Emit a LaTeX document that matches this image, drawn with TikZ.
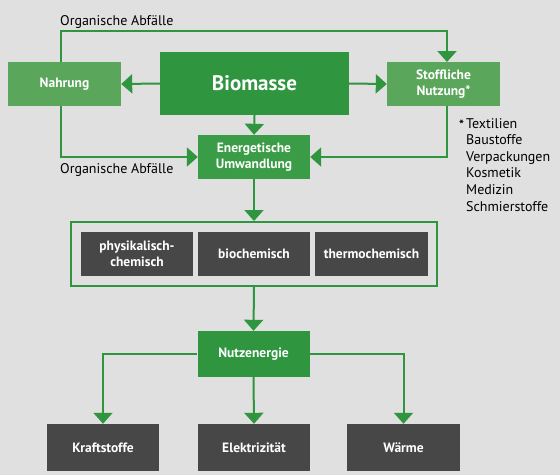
\documentclass[tikz,border=0pt]{standalone}
\usepackage{fontspec}
\setmainfont{PT Sans}
\usetikzlibrary{arrows.meta,positioning}
\definecolor{bg}{HTML}{DFE0DF}
\definecolor{dgreen}{HTML}{2F963F}
\definecolor{lgreen}{HTML}{5AA65A}
\definecolor{mgreen}{HTML}{3A9C46}
\definecolor{dgray}{HTML}{474747}
\tikzset{
  box/.style={rectangle, inner sep=0pt, text=white, font=\bfseries\fontsize{13.5}{16}\selectfont, align=center},
  lbox/.style={box, fill=lgreen},
  gbox/.style={box, fill=mgreen},
  graybox/.style={box, fill=dgray},
  conn/.style={draw=dgreen, line width=2pt, -{Triangle[width=19pt,length=11pt]}},
  lbl/.style={font=\fontsize{14}{16.6}\selectfont, text=black, inner sep=0pt}
}
\begin{document}
\begin{tikzpicture}[x=1pt,y=-1pt]
\fill[bg] (0,0) rectangle (560,475);
\useasboundingbox (0,0) rectangle (560,475);

\node[lbox, minimum width=113pt, minimum height=44pt] (nahrung) at (64.5,84) {Nahrung};
\node[box, fill=dgreen, minimum width=189pt, minimum height=63pt, font=\bfseries\fontsize{21}{24}\selectfont] (bio) at (254.5,83.5) {Biomasse};
\node[lbox, minimum width=113pt, minimum height=44pt] (stoff) at (443.5,84) {Stoffliche\\Nutzung*};
\node[gbox, minimum width=112pt, minimum height=44pt] (energ) at (254,157) {Energetische\\Umwandlung};

\node[draw=dgreen, line width=2pt, minimum width=366pt, minimum height=64pt, inner sep=0pt] (frame) at (254,254) {};
\node[graybox, minimum width=112pt, minimum height=44pt] (p1) at (137,254) {physikalisch-\\chemisch};
\node[graybox, minimum width=112pt, minimum height=44pt] (p2) at (254,254) {biochemisch};
\node[graybox, minimum width=113pt, minimum height=44pt] (p3) at (371.5,254) {thermochemisch};

\node[box, fill=dgreen, minimum width=112pt, minimum height=46pt] (nutz) at (253.5,354) {Nutzenergie};
\node[graybox, minimum width=112pt, minimum height=47pt] (kraft) at (103,447.5) {Kraftstoffe};
\node[graybox, minimum width=112pt, minimum height=47pt] (elek) at (254,447.5) {Elektrizität};
\node[graybox, minimum width=113pt, minimum height=47pt] (waerme) at (403.5,447.5) {Wärme};

\coordinate (top) at (0,31);
\coordinate (nt) at (61,62);
\coordinate (nb) at (61,106);
\coordinate (st) at (447,62);
\coordinate (sb) at (447,106);

\draw[conn] (bio.west) -- (nahrung.east);
\draw[conn] (bio.east) -- (stoff.west);
\draw[conn] (bio.south) -- (energ.north);
\draw[conn] (nt) -- (nt |- top) -- (st |- top) -- (st);
\draw[conn] (nb) |- (energ.west);
\draw[conn] (sb) |- (energ.east);
\draw[conn] (energ.south) -- (frame.north);
\draw[conn] (frame.south) -- (nutz.north);
\draw[conn] (nutz.west) -| (kraft.north);
\draw[conn] (nutz.south) -- (elek.north);
\draw[conn] (nutz.east) -| (waerme.north);

\node[lbl, anchor=base west] (oa1) at (60,25) {Organische Abfälle};
\node[lbl, anchor=base west] (oa2) at (60,173) {Organische Abfälle};
\node[lbl, anchor=north west, font=\bfseries\fontsize{13}{14}\selectfont] (star) at (459,120) {*};
\node[lbl, anchor=north west, align=left] (foot) at (466,118) {Textilien\\Baustoffe\\Verpackungen\\Kosmetik\\Medizin\\Schmierstoffe};
\end{tikzpicture}
\end{document}
